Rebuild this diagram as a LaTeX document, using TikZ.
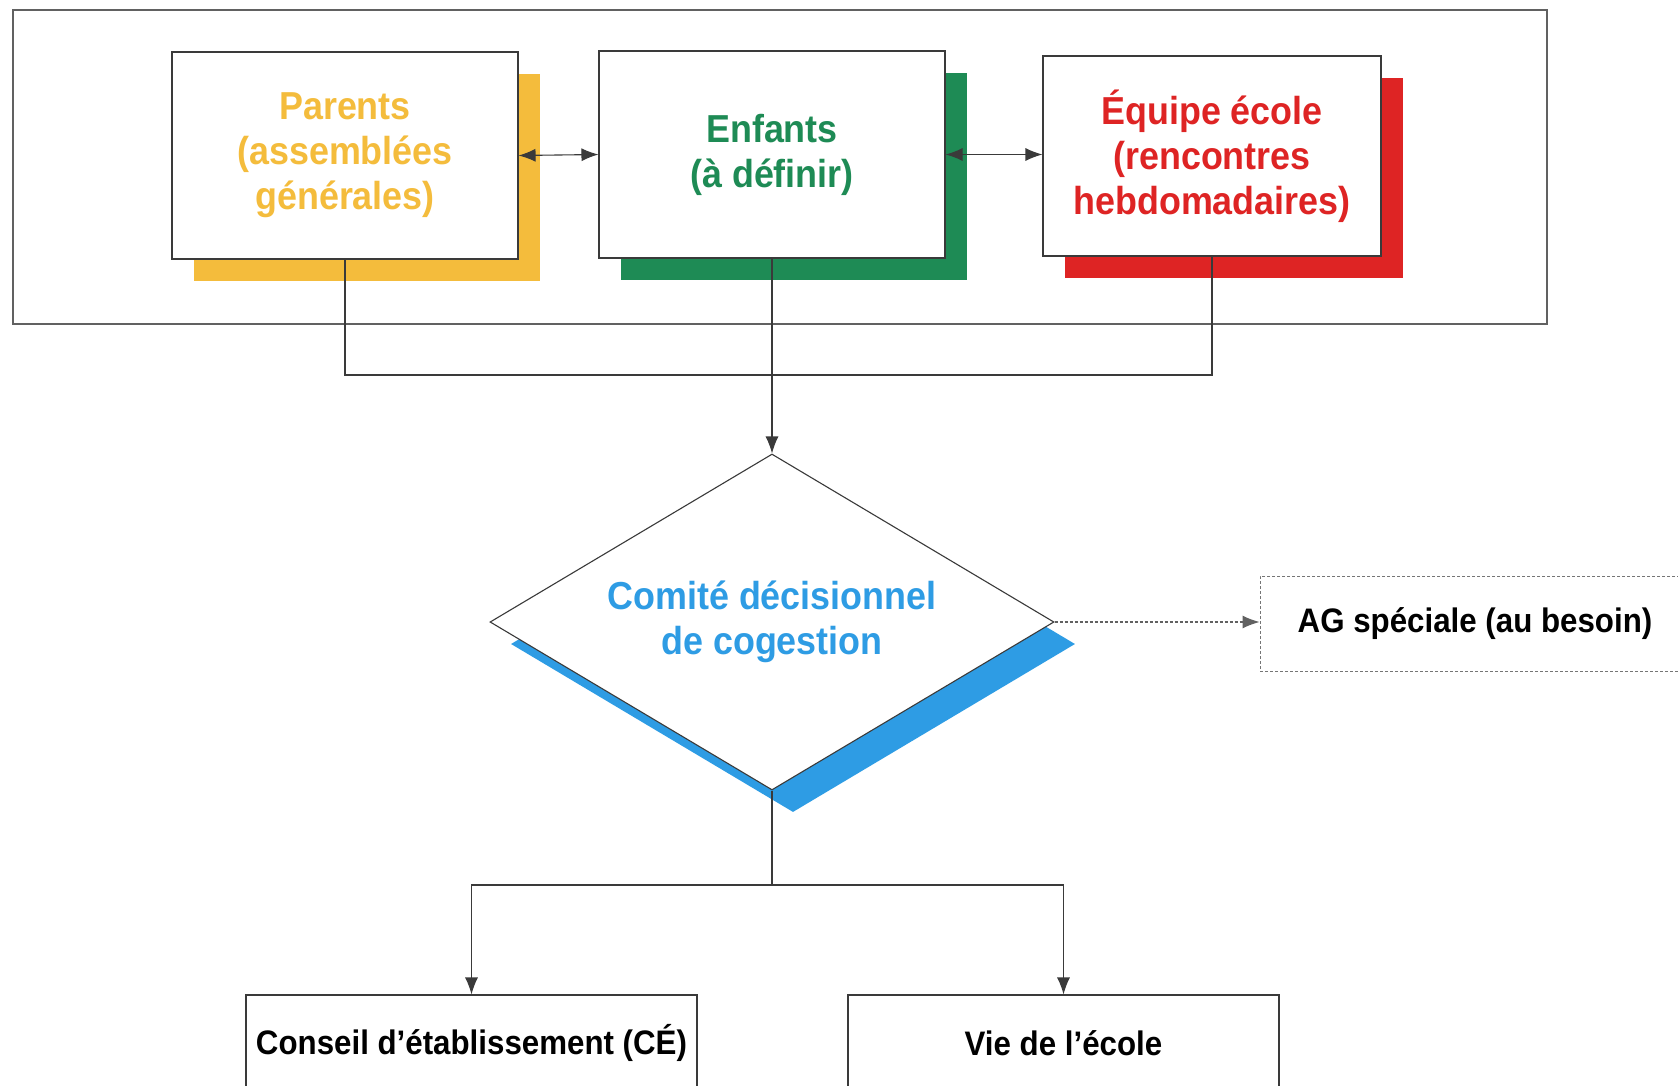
\documentclass[tikz,border=0pt]{standalone}
\usepackage{fontspec}
\newfontfamily\dfont{Liberation Sans}[FakeStretch=0.92]
\usetikzlibrary{shapes.geometric,arrows.meta}
\definecolor{cyel}{HTML}{F4BC3C}
\definecolor{cgrn}{HTML}{1E8B55}
\definecolor{cred}{HTML}{DE2424}
\definecolor{cblu}{HTML}{2E9CE4}
\definecolor{cline}{HTML}{3A3A3A}
\begin{document}
\begin{tikzpicture}[x=1pt,y=-1pt,
  tip/.style={-{Latex[length=17pt,width=13pt]}},
  dtip/.style={{Latex[length=17pt,width=13pt]}-{Latex[length=17pt,width=13pt]}},
  conn/.style={draw=cline,line width=1.1pt},
  wbox/.style={draw=cline,line width=1.1pt,fill=white,inner sep=0pt,align=center},
  shad/.style={inner sep=0pt},
  bigtxt/.style={font=\dfont\bfseries\fontsize{39}{45}\selectfont},
  smltxt/.style={font=\dfont\bfseries\fontsize{34}{40}\selectfont,text=black}]
\useasboundingbox[fill=white] (0,0) rectangle (1678,1086);
% outer frame
\node[draw=cline!80,line width=1.1pt,minimum width=1534pt,minimum height=314pt,inner sep=0pt] (frame) at (780,167) {};
% shadows
\node[shad,fill=cyel,minimum width=346pt,minimum height=207pt] (pars) at (367,177.5) {};
\node[shad,fill=cgrn,minimum width=346pt,minimum height=207pt] (enfs) at (794,176.5) {};
\node[shad,fill=cred,minimum width=338pt,minimum height=200pt] (equs) at (1234,178) {};
% boxes
\node[wbox,bigtxt,text=cyel,minimum width=346pt,minimum height=207pt] (par) at (345,155.5) {Parents\\(assemblées\\générales)};
\node[wbox,bigtxt,text=cgrn,minimum width=346pt,minimum height=207pt] (enf) at (772,154.5) {Enfants\\(à définir)};
\node[wbox,bigtxt,text=cred,minimum width=338pt,minimum height=200pt] (equ) at (1212,156) {Équipe école\\(rencontres\\hebdomadaires)};
% diamond
\node[diamond,shad,fill=cblu,minimum width=564pt,minimum height=336pt,aspect=1.68] (coms) at (793,644) {};
\node[diamond,wbox,bigtxt,text=cblu,minimum width=564pt,minimum height=336pt,aspect=1.68] (com) at (772,622) {Comité décisionnel\\de cogestion};
% AG box
\node[draw=cline!70,line width=1pt,dash pattern=on 3pt off 2pt,minimum width=430pt,minimum height=95pt,inner sep=0pt,smltxt] (ag) at (1475,623.5) {AG spéciale (au besoin)};
% bottom boxes
\node[wbox,smltxt,minimum width=451pt,minimum height=96pt] (ce) at (471.5,1043) {Conseil d’établissement (CÉ)};
\node[wbox,smltxt,minimum width=431pt,minimum height=96pt] (vie) at (1063.5,1043) {Vie de l’école};
% connectors
\coordinate (j1) at (772,375);
\coordinate (j2) at (772,885);
\draw[conn] (par.south) -- (par.south |- j1) -- (equ.south |- j1) -- (equ.south);
\draw[conn,tip] (enf.south) -- (com.north);
\draw[conn,dtip] (par.east) -- (enf.west);
\draw[conn,dtip] (enf.east) -- (equ.west |- enf.east);
\draw[conn,tip,dash pattern=on 3pt off 2pt,draw=cline!80] (com.east) -- (ag.west |- com.east);
\draw[conn] (com.south) -- (j2);
\draw[conn,tip] (j2) -| (ce.north);
\draw[conn,tip] (j2) -| (vie.north);
\end{tikzpicture}
\end{document}
